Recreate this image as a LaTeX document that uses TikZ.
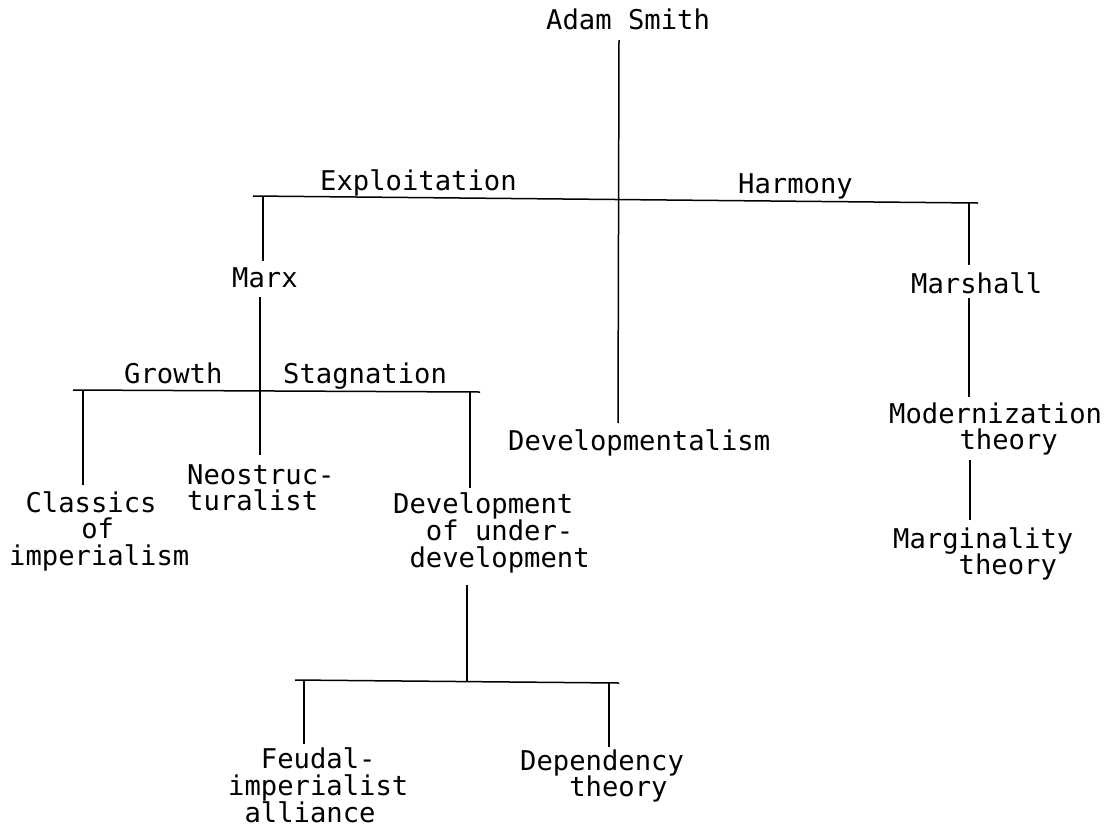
\documentclass[tikz,border=0pt]{standalone}
\usepackage{fontspec}
\newfontfamily\twfont{DejaVu Sans Mono}
\newdimen\cwd \cwd=16.375pt
\newcommand\tline[2][0]{\hbox{\kern#1\cwd #2}}
\newcommand\tblock[2][26.5pt]{\vtop{\baselineskip=#1\lineskiplimit=-\maxdimen #2}}
\begin{document}
\begin{tikzpicture}[x=1pt,y=-1pt,
  lbl/.style={font=\twfont\fontsize{27.2pt}{26.5pt}\selectfont, inner sep=0pt, anchor=base west},
  link/.style={line width=1.5pt, line cap=butt}]
\useasboundingbox (0,0) rectangle (1108,839);
% text nodes
\node[lbl] (smith)    at (546,29)  {Adam Smith};
\node[lbl] (expl)     at (320,190) {Exploitation};
\node[lbl] (harm)     at (738,193) {Harmony};
\node[lbl] (marx)     at (232,287) {Marx};
\node[lbl] (marshall) at (911,293) {Marshall};
\node[lbl] (growth)   at (124,383) {Growth};
\node[lbl] (stag)     at (283,383) {Stagnation};
\node[lbl] (neo)      at (187,484) {\tblock{\tline{Neostruc-}\tline{turalist}}};
\node[lbl] (classics) at (9,512)   {\tblock{\tline[1]{Classics}\tline[4.4]{of}\tline{imperialism}}};
\node[lbl] (devund)   at (393,513) {\tblock[27pt]{\tline{Development}\tline[2]{of under-}\tline[1]{development}}};
\node[lbl] (devism)   at (508,450) {Developmentalism};
\node[lbl] (modern)   at (889,423) {\tblock{\tline{Modernization}\tline[4.3]{theory}}};
\node[lbl] (margin)   at (893,548) {\tblock{\tline{Marginality}\tline[4]{theory}}};
\node[lbl] (feudal)   at (228,768) {\tblock[27pt]{\tline[2]{Feudal-}\tline{imperialist}\tline[1]{alliance}}};
\node[lbl] (dep)      at (520,770) {\tblock{\tline{Dependency}\tline[3]{theory}}};
% junction / end coordinates
\coordinate (smithB)  at (619,40);
\coordinate (devismT) at (618,423);
\coordinate (bar1L)   at (253,196);
\coordinate (bar1R)   at (978,203);
\coordinate (lDropT)  at (263,197);
\coordinate (marxT)   at (263,261);
\coordinate (rDropT)  at (969,203);
\coordinate (marshT)  at (969,265);
\coordinate (marxB)   at (260,297);
\coordinate (neoT)    at (260,455);
\coordinate (bar2L)   at (73,390);
\coordinate (bar2R)   at (480,392);
\coordinate (clDropT) at (83,390);
\coordinate (classT)  at (83,485);
\coordinate (duDropT) at (470,391);
\coordinate (devundT) at (470,488);
\coordinate (marshB)  at (969,298);
\coordinate (modT)    at (969,397);
\coordinate (modB)    at (970,460);
\coordinate (margT)   at (970,520);
\coordinate (devundB) at (467,585);
\coordinate (bar3J)   at (467,682);
\coordinate (bar3L)   at (295,680);
\coordinate (bar3R)   at (619,683);
\coordinate (feDropT) at (304,681);
\coordinate (feudT)   at (304,744);
\coordinate (deDropT) at (609,683);
\coordinate (depT)    at (609,747);
% connectors
\draw[link] (smithB) -- (devismT);
\draw[link] (bar1L) -- (bar1R);
\draw[link] (lDropT) -- (marxT);
\draw[link] (rDropT) -- (marshT);
\draw[link] (marxB) -- (neoT);
\draw[link] (bar2L) -- (bar2R);
\draw[link] (clDropT) -- (classT);
\draw[link] (duDropT) -- (devundT);
\draw[link] (marshB) -- (modT);
\draw[link] (modB) -- (margT);
\draw[link] (devundB) -- (bar3J);
\draw[link] (bar3L) -- (bar3R);
\draw[link] (feDropT) -- (feudT);
\draw[link] (deDropT) -- (depT);
\end{tikzpicture}
\end{document}
